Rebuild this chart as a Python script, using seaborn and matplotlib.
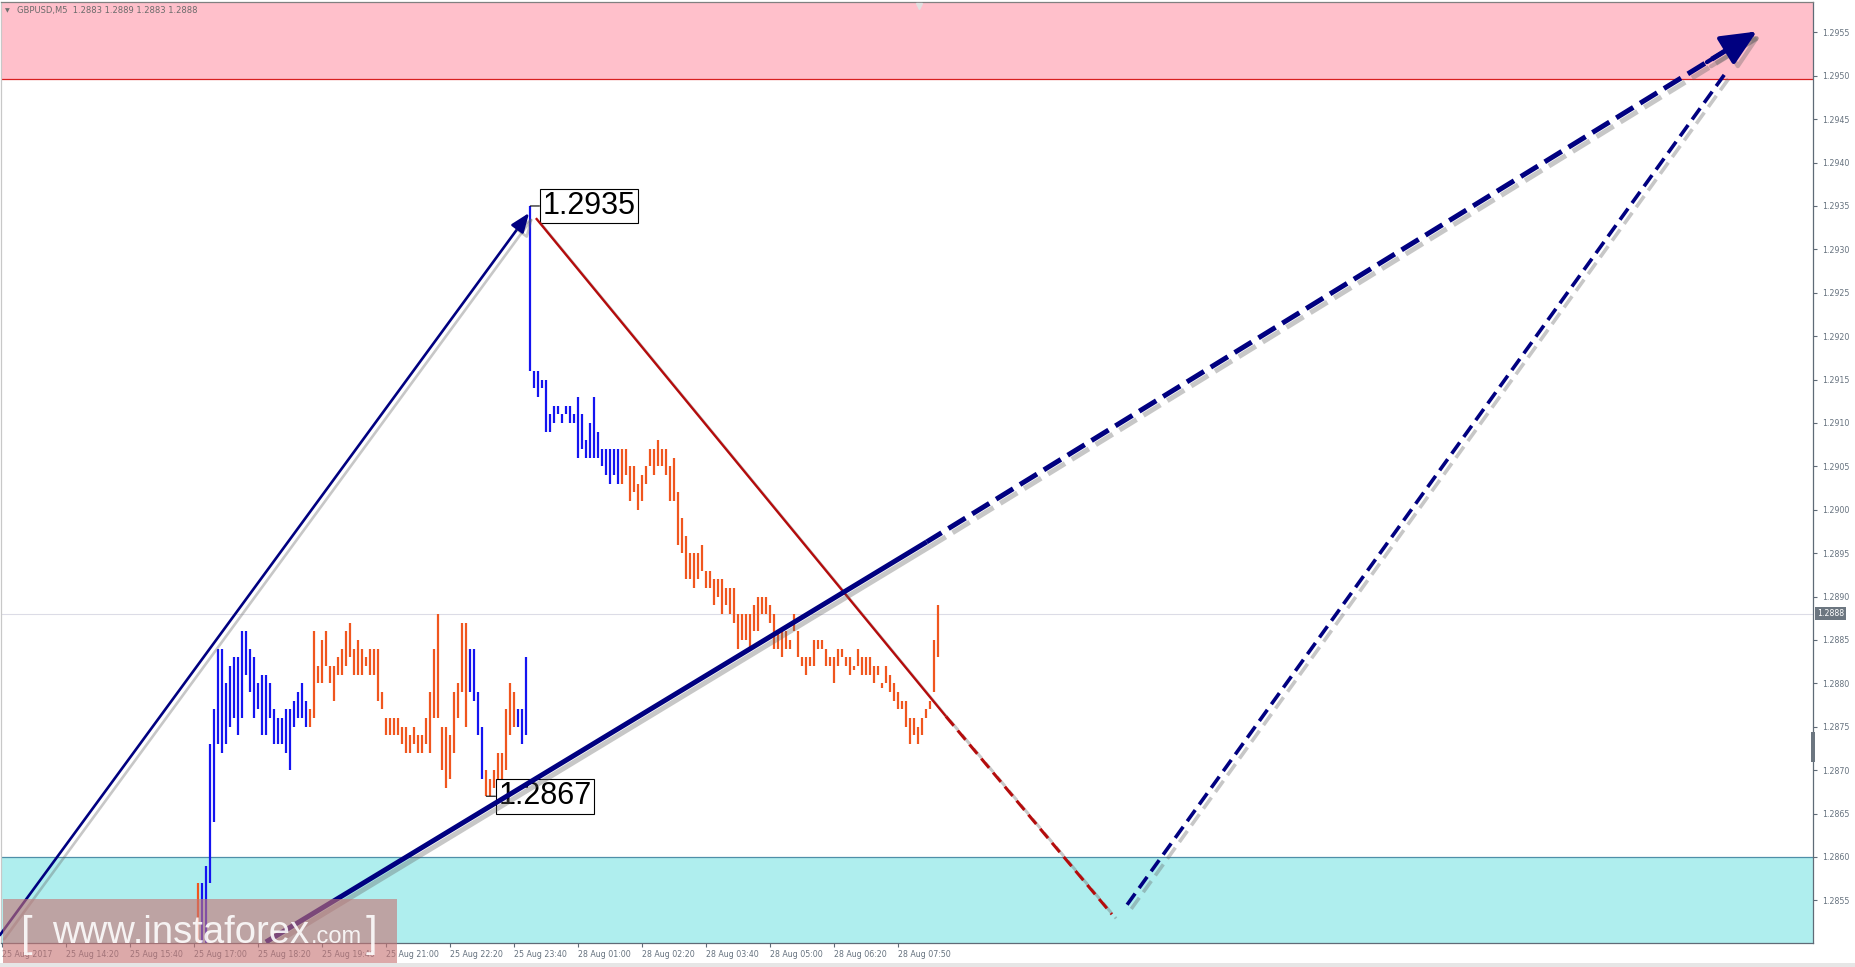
import numpy as np
import pandas as pd
import matplotlib
matplotlib.use("Agg")
import matplotlib.pyplot as plt
import matplotlib.patheffects as pe
from matplotlib.patches import Rectangle
import seaborn as sns

# ---------------- data (GBPUSD M5 bars) ----------------
bar_high = [
    1.2857, 1.2857, 1.2859, 1.2873, 1.2877, 1.2884, 1.2884, 1.2880, 1.2882, 1.2883,
    1.2883, 1.2886, 1.2886, 1.2884, 1.2883, 1.2880, 1.2881, 1.2881, 1.2880, 1.2877,
    1.2876, 1.2876, 1.2877, 1.2877, 1.2878, 1.2879, 1.2880, 1.2878, 1.2877, 1.2886,
    1.2882, 1.2885, 1.2886, 1.2882, 1.2882, 1.2883, 1.2884, 1.2886, 1.2887, 1.2884,
    1.2885, 1.2884, 1.2883, 1.2884, 1.2884, 1.2884, 1.2879, 1.2876, 1.2876, 1.2876,
    1.2876, 1.2875, 1.2875, 1.2874, 1.2875, 1.2874, 1.2874, 1.2876, 1.2879, 1.2884,
    1.2888, 1.2875, 1.2875, 1.2874, 1.2879, 1.2880, 1.2887, 1.2887, 1.2884, 1.2884,
    1.2879, 1.2875, 1.2870, 1.2869, 1.2870, 1.2872, 1.2872, 1.2877, 1.2880, 1.2879,
    1.2877, 1.2877, 1.2883, 1.2935, 1.2916, 1.2916, 1.2915, 1.2915, 1.2911, 1.2912,
    1.2912, 1.2911, 1.2912, 1.2912, 1.2911, 1.2913, 1.2911, 1.2908, 1.2910, 1.2913,
    1.2909, 1.2907, 1.2907, 1.2907, 1.2907, 1.2907, 1.2907, 1.2907, 1.2905, 1.2905,
    1.2903, 1.2904, 1.2905, 1.2907, 1.2907, 1.2908, 1.2907, 1.2907, 1.2905, 1.2906,
    1.2902, 1.2899, 1.2897, 1.2895, 1.2895, 1.2895, 1.2896, 1.2893, 1.2893, 1.2892,
    1.2892, 1.2892, 1.2891, 1.2891, 1.2891, 1.2888, 1.2888, 1.2888, 1.2888, 1.2889,
    1.2890, 1.2890, 1.2890, 1.2889, 1.2888, 1.2886, 1.2886, 1.2886, 1.2885, 1.2888,
    1.2886, 1.2883, 1.2883, 1.2883, 1.2885, 1.2885, 1.2885, 1.2884, 1.2883, 1.2883,
    1.2884, 1.2884, 1.2883, 1.2883, 1.2882, 1.2884, 1.2883, 1.2883, 1.2883, 1.2882,
    1.2882, 1.2880, 1.2882, 1.2881, 1.2880, 1.2879, 1.2878, 1.2878, 1.2876, 1.2876,
    1.2875, 1.2876, 1.2877, 1.2878, 1.2885, 1.2889,
]
bar_low = [
    1.2846, 1.2846, 1.2846, 1.2857, 1.2864, 1.2873, 1.2872, 1.2873, 1.2875, 1.2876,
    1.2874, 1.2876, 1.2881, 1.2879, 1.2876, 1.2877, 1.2874, 1.2874, 1.2876, 1.2873,
    1.2873, 1.2873, 1.2872, 1.2870, 1.2875, 1.2876, 1.2876, 1.2875, 1.2875, 1.2876,
    1.2880, 1.2880, 1.2882, 1.2880, 1.2878, 1.2881, 1.2881, 1.2882, 1.2883, 1.2881,
    1.2881, 1.2881, 1.2882, 1.2881, 1.2881, 1.2878, 1.2877, 1.2874, 1.2874, 1.2874,
    1.2874, 1.2873, 1.2872, 1.2872, 1.2873, 1.2872, 1.2872, 1.2873, 1.2872, 1.2876,
    1.2876, 1.2870, 1.2868, 1.2869, 1.2872, 1.2876, 1.2879, 1.2875, 1.2879, 1.2878,
    1.2874, 1.2869, 1.2867, 1.2867, 1.2868, 1.2869, 1.2869, 1.2870, 1.2874, 1.2875,
    1.2875, 1.2873, 1.2874, 1.2916, 1.2914, 1.2913, 1.2914, 1.2909, 1.2909, 1.2910,
    1.2911, 1.2910, 1.2911, 1.2910, 1.2910, 1.2906, 1.2907, 1.2906, 1.2906, 1.2906,
    1.2906, 1.2905, 1.2904, 1.2903, 1.2904, 1.2903, 1.2903, 1.2904, 1.2901, 1.2902,
    1.2900, 1.2901, 1.2903, 1.2905, 1.2904, 1.2905, 1.2905, 1.2904, 1.2901, 1.2901,
    1.2896, 1.2895, 1.2892, 1.2892, 1.2891, 1.2892, 1.2893, 1.2891, 1.2891, 1.2889,
    1.2890, 1.2888, 1.2889, 1.2888, 1.2887, 1.2884, 1.2885, 1.2885, 1.2884, 1.2886,
    1.2886, 1.2888, 1.2888, 1.2887, 1.2884, 1.2884, 1.2883, 1.2884, 1.2884, 1.2886,
    1.2883, 1.2882, 1.2881, 1.2882, 1.2882, 1.2884, 1.2884, 1.2882, 1.2882, 1.2880,
    1.2882, 1.2883, 1.2882, 1.2881, 1.28815, 1.2882, 1.2881, 1.2881, 1.2881, 1.2880,
    1.2881, 1.28795, 1.2880, 1.2879, 1.2878, 1.2877, 1.2877, 1.2875, 1.2873, 1.2874,
    1.2873, 1.2874, 1.2876, 1.2877, 1.2879, 1.2883,
]
# colour runs of the bars: (direction, number of bars)
dir_runs = [("dn", 1), ("up", 27), ("dn", 40), ("up", 4), ("dn", 8), ("up", 26), ("dn", 80)]

last_ohlc = [1.2883, 1.2889, 1.2883, 1.2888]
symbol = "GBPUSD,M5"

resist_zone = [1.29496, 1.2962]
support_zone = [1.2840, 1.2860]

# wave lines (bar index, price)
wave_a_x, wave_a_p = [-49.6, 82.7], [1.28510, 1.29342]                       # thin navy arrow
wave_b_x, wave_b_p = [84.4, 186.9, 228.4], [1.29336, 1.28762, 1.28534]       # red line
wave_c_x, wave_c_p = [16.9, 182.1, 389.6], [1.28502, 1.28963, 1.29551]       # thick navy
wave_d_x, wave_d_p = [232.2, 382.1], [1.28545, 1.29505]                      # navy dashed

pivot_labels = [(83, 1.2935), (72, 1.2867)]

xtick_pos = [-49, -33, -17, -1, 15, 31, 47, 63, 79, 95, 111, 127, 143, 159, 175]
xtick_labels = ["25 Aug 2017", "25 Aug 14:20", "25 Aug 15:40", "25 Aug 17:00",
                "25 Aug 18:20", "25 Aug 19:40", "25 Aug 21:00", "25 Aug 22:20",
                "25 Aug 23:40", "28 Aug 01:00", "28 Aug 02:20", "28 Aug 03:40",
                "28 Aug 05:00", "28 Aug 06:20", "28 Aug 07:50"]
ytick_vals = [1.2855, 1.2860, 1.2865, 1.2870, 1.2875, 1.2880, 1.2885, 1.2890,
              1.2895, 1.2900, 1.2905, 1.2910, 1.2915, 1.2920, 1.2925, 1.2930,
              1.2935, 1.2940, 1.2945, 1.2950, 1.2955]

# ---------------- figure ----------------
sns.set_theme(style="white")
plt.rcParams["font.family"] = ["DejaVu Sans"]

W, H = 1855, 967
fig = plt.figure(figsize=(W / 100, H / 100), dpi=100)
fig.patch.set_facecolor("white")
ax = fig.add_axes([1 / W, 24 / H, 1812 / W, 941 / H])
ax.set_facecolor("white")

NAVY = "#000080"
RED = "#b40c0c"
AXC = "#5f6b77"
TXT = "#66727f"

# zones and current price line
ax.axhspan(resist_zone[0], resist_zone[1], color="#ffc0cb", lw=0, zorder=0)
ax.axhline(resist_zone[0], color="#d82020", lw=0.9, zorder=0.5)
ax.axhspan(support_zone[0], support_zone[1], color="#afeeee", lw=0, zorder=0)
ax.axhline(support_zone[1], color="#4f8fa8", lw=0.9, zorder=0.5)
ax.axhline(last_ohlc[3], color="#dcdce6", lw=0.8, zorder=0.6)

# bars (high-low vertical lines) drawn through seaborn
idx = np.arange(len(bar_high))
dirs = np.concatenate([[d] * n for d, n in dir_runs])
df = pd.DataFrame({
    "x": np.repeat(idx, 2),
    "price": np.column_stack([bar_low, bar_high]).ravel(),
    "bar": np.repeat(idx, 2),
    "dir": np.repeat(dirs, 2),
})
sns.lineplot(data=df, x="x", y="price", units="bar", estimator=None, hue="dir",
             palette={"up": "#1414f0", "dn": "#f0561e"}, sort=False, legend=False,
             lw=1.6, solid_capstyle="butt", ax=ax, zorder=2)
ax.set_xlabel("")
ax.set_ylabel("")

shadow = [pe.SimpleLineShadow(offset=(3, -3), shadow_color="#606060", alpha=0.35), pe.Normal()]

# thin navy arrow to the peak
ax.annotate("", xy=(wave_a_x[1], wave_a_p[1]), xytext=(wave_a_x[0], wave_a_p[0]),
            arrowprops=dict(arrowstyle="-|>,head_length=1.15,head_width=0.45", color=NAVY,
                            lw=1.9, mutation_scale=10, shrinkA=0, shrinkB=0,
                            path_effects=shadow),
            zorder=4, annotation_clip=False)

# red line: solid then dashed
ax.plot(wave_b_x[:2], wave_b_p[:2], color=RED, lw=1.7, zorder=4, path_effects=shadow,
        solid_capstyle="butt")
ax.plot(wave_b_x[1:], wave_b_p[1:], color=RED, lw=2.2, ls=(0, (4, 2)), zorder=4,
        path_effects=shadow)

# thick navy line: solid then dashed with arrow head
ax.plot(wave_c_x[:2], wave_c_p[:2], color=NAVY, lw=3.6, zorder=4, path_effects=shadow,
        solid_capstyle="butt")
ax.plot(wave_c_x[1:], wave_c_p[1:], color=NAVY, lw=3.6, ls=(0.5, (4, 1.6)), zorder=4,
        path_effects=shadow)
tail_x = wave_c_x[2] + 0.06 * (wave_c_x[1] - wave_c_x[2])
tail_p = wave_c_p[2] + 0.06 * (wave_c_p[1] - wave_c_p[2])
ax.annotate("", xy=(wave_c_x[2], wave_c_p[2]), xytext=(tail_x, tail_p),
            arrowprops=dict(arrowstyle="-|>,head_length=1.1,head_width=0.5", color=NAVY,
                            lw=3.0, mutation_scale=20, shrinkA=0, shrinkB=0,
                            path_effects=shadow),
            zorder=4, annotation_clip=False)

# second navy dashed line
ax.plot(wave_d_x, wave_d_p, color=NAVY, lw=2.6, ls=(0, (3.8, 1.9)), zorder=4,
        path_effects=shadow)

# pivot price labels
for bx, pr in pivot_labels:
    ax.annotate(f"{pr:.4f}", xy=(bx, pr), xytext=(12, 0), textcoords="offset pixels",
                ha="left", va="center", fontsize=22, family="Liberation Sans", color="black",
                bbox=dict(boxstyle="square,pad=0.08", fc="white", ec="black", lw=0.8),
                arrowprops=dict(arrowstyle="-", color="black", lw=0.8, shrinkA=0, shrinkB=0),
                zorder=3)

# limits
ax.set_xlim(-49.325, 403.675)
ax.set_ylim(1.285009, 1.295850)

# axes / ticks
ax.set_xticks(xtick_pos)
ax.set_xticklabels(xtick_labels, ha="left", fontsize=5.7, color=TXT)
ax.tick_params(axis="x", bottom=True, direction="out", length=3, width=0.8, color=AXC, pad=2)
ax.yaxis.tick_right()
ax.set_yticks(ytick_vals)
ax.set_yticklabels([f"{v:.4f}" for v in ytick_vals], fontsize=5.7, color=TXT)
ax.tick_params(axis="y", right=True, left=False, direction="out", length=3, width=0.8,
               color=AXC, pad=3.5)
for side, col in [("top", "#808080"), ("left", "#c8c8c8"), ("right", AXC), ("bottom", AXC)]:
    ax.spines[side].set_visible(True)
    ax.spines[side].set_color(col)
    ax.spines[side].set_linewidth(0.9)

# current price tag on the axis
ax.annotate(f"{last_ohlc[3]:.4f}", xy=(1, last_ohlc[3]), xycoords=("axes fraction", "data"),
            xytext=(4, 0), textcoords="offset pixels", ha="left", va="center",
            fontsize=5.7, color="white", annotation_clip=False,
            bbox=dict(boxstyle="square,pad=0.25", fc="#6c7680", ec="none"), zorder=6)

# small decorations of the terminal
fig.add_artist(Rectangle((1811 / W, 1 - 762 / H), 4 / W, 30 / H, transform=fig.transFigure,
                         fc="#6c7680", ec="none", zorder=6))
fig.add_artist(Rectangle((0, 0), 1, 4 / H, transform=fig.transFigure, fc="#e6e6e6",
                         ec="none", zorder=6))
ax.plot([0.5068], [0.996], marker="v", ms=4, color="#e0e0e0", transform=ax.transAxes,
        clip_on=False, zorder=6)

# header
fig.text(5 / W, 1 - 11 / H, "▼", fontsize=4.5, color="#707070", va="center")
fig.text(17 / W, 1 - 11 / H,
         symbol + "  " + " ".join(f"{v:.4f}" for v in last_ohlc),
         fontsize=6, color="#6b6b6b", va="center")

# watermark
fig.add_artist(Rectangle((3 / W, 4 / H), 394 / W, 64 / H, transform=fig.transFigure,
                         fc=(0.78, 0.46, 0.46), alpha=0.62, ec="none", zorder=10))
wm = dict(color="white", alpha=0.88, va="baseline", family="Liberation Sans", zorder=11)
fig.text(21 / W, 1 - 946 / H, "[", fontsize=30, **wm)
fig.text(52 / W, 1 - 943 / H, "www.instaforex", fontsize=27.5, **wm)
fig.text(311 / W, 1 - 943 / H, ".com", fontsize=17, **wm)
fig.text(366 / W, 1 - 946 / H, "]", fontsize=30, **wm)

fig.savefig("out.png", dpi=100, facecolor="white")
